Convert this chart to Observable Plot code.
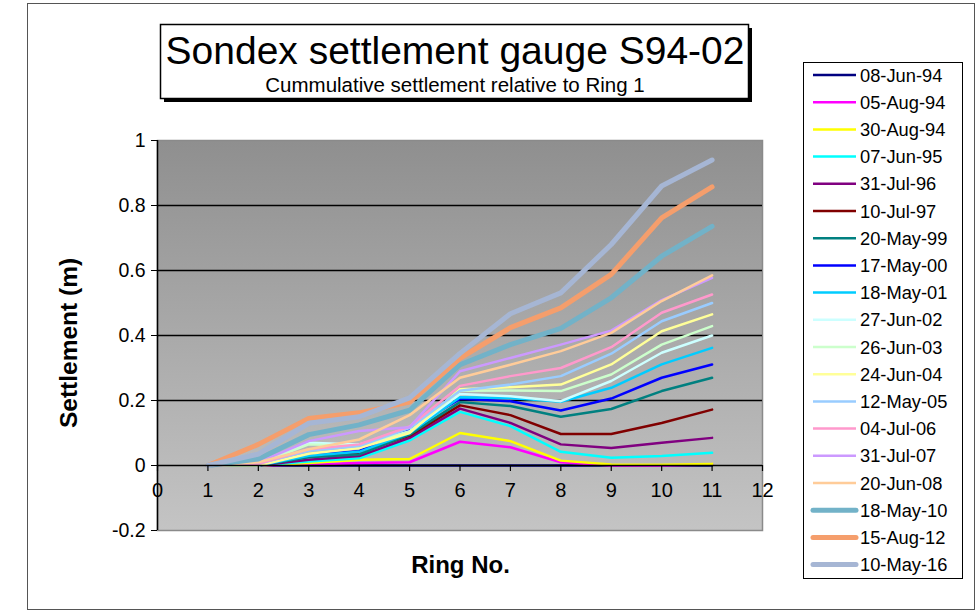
<!DOCTYPE html>
<html><head><meta charset="utf-8">
<script src="https://cdn.jsdelivr.net/npm/d3@7"></script>
<script src="https://cdn.jsdelivr.net/npm/@observablehq/plot@0.6"></script>
<style>
html,body{margin:0;padding:0;background:#fff;}
#chart svg{display:block;}
</style>
</head><body><div id="chart"></div>
<script>
// ---- data ----
const rings = [1, 2, 3, 4, 5, 6, 7, 8, 9, 10, 11];
const xTicks = [0, 1, 2, 3, 4, 5, 6, 7, 8, 9, 10, 11, 12];
const yTicks = [-0.2, 0, 0.2, 0.4, 0.6, 0.8, 1];
const yGrid = [0.2, 0.4, 0.6, 0.8];

const seriesNames = ["08-Jun-94","05-Aug-94","30-Aug-94","07-Jun-95","31-Jul-96","10-Jul-97","20-May-99","17-May-00","18-May-01","27-Jun-02","26-Jun-03","24-Jun-04","12-May-05","04-Jul-06","31-Jul-07","20-Jun-08","18-May-10","15-Aug-12","10-May-16"];
const seriesColors = ["#000080","#ff00ff","#ffff00","#00ffff","#800080","#800000","#008080","#0000ff","#00ccff","#ccffff","#ccffcc","#ffff99","#99ccff","#ff99cc","#cc99ff","#ffcc99","#72b2c8","#f59e6c","#a6b6d4"];
const seriesWidths = [2.5,2.5,2.5,2.5,2.5,2.5,2.5,2.5,2.5,2.5,2.5,2.5,2.5,2.5,2.5,2.5,5,5,5];

const v08Jun94 = [0, 0, 0, 0, 0, 0, 0, 0, 0, 0, 0];
const v05Aug94 = [0, 0, 0.003, 0.008, 0.01, 0.073, 0.056, 0.01, 0, 0, 0.003];
const v30Aug94 = [0, 0, 0.008, 0.018, 0.02, 0.1, 0.075, 0.015, 0.003, 0.002, 0.005];
const v07Jun95 = [0, 0, 0.012, 0.022, 0.077, 0.165, 0.121, 0.042, 0.024, 0.029, 0.039];
const v31Jul96 = [0, 0, 0.018, 0.029, 0.085, 0.175, 0.131, 0.065, 0.054, 0.07, 0.085];
const v10Jul97 = [0, 0, 0.029, 0.039, 0.092, 0.185, 0.155, 0.097, 0.097, 0.131, 0.172];
const v20May99 = [0, 0, 0.025, 0.034, 0.095, 0.195, 0.183, 0.15, 0.174, 0.229, 0.27];
const v17May00 = [0, 0, 0.032, 0.044, 0.113, 0.205, 0.198, 0.169, 0.206, 0.27, 0.311];
const v18May01 = [0, 0, 0.03, 0.042, 0.1, 0.21, 0.208, 0.196, 0.239, 0.311, 0.362];
const v27Jun02 = [0, 0.005, 0.07, 0.065, 0.105, 0.22, 0.213, 0.198, 0.26, 0.347, 0.4];
const v26Jun03 = [0, 0.005, 0.065, 0.06, 0.105, 0.23, 0.231, 0.229, 0.28, 0.372, 0.429];
const v24Jun04 = [0, 0, 0.036, 0.054, 0.1, 0.235, 0.241, 0.249, 0.311, 0.413, 0.465];
const v12May05 = [0, 0.005, 0.045, 0.06, 0.115, 0.23, 0.249, 0.275, 0.344, 0.444, 0.5];
const v04Jul06 = [0, 0.005, 0.05, 0.065, 0.12, 0.245, 0.275, 0.3, 0.364, 0.47, 0.526];
const v31Jul07 = [0, 0.01, 0.075, 0.106, 0.118, 0.29, 0.331, 0.372, 0.415, 0.509, 0.577];
const v20Jun08 = [0, 0.01, 0.05, 0.08, 0.155, 0.27, 0.31, 0.352, 0.408, 0.506, 0.585];
const v18May10 = [0, 0.02, 0.095, 0.125, 0.17, 0.31, 0.372, 0.422, 0.516, 0.644, 0.736];
const v15Aug12 = [0, 0.065, 0.145, 0.162, 0.195, 0.33, 0.424, 0.485, 0.588, 0.762, 0.857];
const v10May16 = [0, 0.035, 0.13, 0.15, 0.208, 0.345, 0.467, 0.531, 0.68, 0.86, 0.94];

const seriesValues = [v08Jun94, v05Aug94, v30Aug94, v07Jun95, v31Jul96, v10Jul97, v20May99, v17May00, v18May01, v27Jun02, v26Jun03, v24Jun04, v12May05, v04Jul06, v31Jul07, v20Jun08, v18May10, v15Aug12, v10May16];

const titleText = "Sondex settlement gauge S94-02";
const subtitleText = "Cummulative settlement relative to Ring 1";
const xTitle = "Ring No.";
const yTitle = "Settlement (m)";

// ---- build ----
const FONT = "'Liberation Sans', Arial, Helvetica, sans-serif";
const W = 980, H = 613;
const plotLeft = 157, plotRight = 762, plotTop = 140, plotBottom = 530;

const tables = seriesValues.map((vals, s) => rings.map((r, i) => ({ring: r, value: vals[i], series: seriesNames[s]})));

const bgDefs = () => {
  const defs = d3.create("svg:defs");
  const g = defs.append("linearGradient").attr("id", "plotbg")
    .attr("x1", 0).attr("y1", 0).attr("x2", 0).attr("y2", 1);
  g.append("stop").attr("offset", "0%").attr("stop-color", "#8f8f8f");
  g.append("stop").attr("offset", "100%").attr("stop-color", "#c4c4c4");
  return defs.node();
};

const fmt = d => String(+d.toFixed(1));

const chart = Plot.plot({
  width: W, height: H,
  marginLeft: plotLeft, marginRight: W - plotRight, marginTop: plotTop, marginBottom: H - plotBottom,
  style: {fontFamily: FONT, background: "white", color: "black", overflow: "visible"},
  x: {domain: [0, 12], axis: null},
  y: {domain: [-0.2, 1]},
  marks: [
    bgDefs,
    Plot.frame({fill: "url(#plotbg)", stroke: "#8a8a8a", strokeWidth: 1.5}),
    Plot.ruleY(yGrid, {stroke: "#000", strokeWidth: 1.3}),
    ...tables.map((t, s) => Plot.line(t, {x: "ring", y: "value", stroke: seriesColors[s], strokeWidth: seriesWidths[s], strokeLinejoin: "round", strokeLinecap: "round"})),
    Plot.ruleY([0], {stroke: "#000", strokeWidth: 1.5}),
    Plot.ruleX(xTicks, {x: d => d, y1: d => 0, y2: d => 0, insetBottom: -6, stroke: "#000", strokeWidth: 1.2}),
    Plot.text(xTicks, {x: d => d, y: d => 0, text: d => String(d), dy: 25, fontSize: 20, fill: "#000"}),
    Plot.ruleX([0], {stroke: "#000", strokeWidth: 1.5}),
    Plot.axisY({anchor: "left", ticks: yTicks, tickFormat: fmt, tickSize: 6, tickPadding: 6, fontSize: 19.5, label: null, stroke: "#000"})
  ]
});

const svg = d3.select(chart);
svg.attr("font-family", FONT);

// outer border
svg.insert("rect", ":first-child")
  .attr("x", 27.5).attr("y", 3.5).attr("width", 947).attr("height", 606)
  .attr("fill", "none").attr("stroke", "#555").attr("stroke-width", 1);

// title box
const tb = svg.append("g");
tb.append("rect").attr("x", 164).attr("y", 28).attr("width", 588).attr("height", 74).attr("fill", "#000");
tb.append("rect").attr("x", 160.5).attr("y", 24.5).attr("width", 588).attr("height", 74)
  .attr("fill", "#fff").attr("stroke", "#000").attr("stroke-width", 1.5);
tb.append("text").attr("x", 455).attr("y", 64).attr("text-anchor", "middle")
  .attr("font-size", 39).attr("fill", "#000").text(titleText);
tb.append("text").attr("x", 455).attr("y", 92).attr("text-anchor", "middle")
  .attr("font-size", 20.5).attr("fill", "#000").text(subtitleText);

// axis titles
svg.append("text").attr("transform", `translate(${(plotLeft + plotRight) / 2 + 1},573)`)
  .attr("text-anchor", "middle").attr("font-size", 24).attr("font-weight", "bold").text(xTitle);
svg.append("text").attr("transform", `translate(77,${(plotTop + plotBottom) / 2 + 8}) rotate(-90)`)
  .attr("text-anchor", "middle").attr("font-size", 24.5).attr("font-weight", "bold").text(yTitle);

// legend
const lg = svg.append("g");
lg.append("rect").attr("x", 803.5).attr("y", 62.5).attr("width", 159).attr("height", 516)
  .attr("fill", "#fff").attr("stroke", "#000").attr("stroke-width", 1);
seriesNames.forEach((name, i) => {
  const y = 75 + i * 27.2;
  lg.append("line").attr("x1", 813).attr("x2", 856).attr("y1", y).attr("y2", y)
    .attr("stroke", seriesColors[i]).attr("stroke-width", seriesWidths[i]).attr("stroke-linecap", seriesWidths[i] > 3 ? "round" : "butt");
  lg.append("text").attr("x", 860).attr("y", y).attr("dy", "0.36em").attr("text-anchor", "start")
    .attr("font-size", 18.3).attr("fill", "#000").text(name);
});

document.getElementById("chart").appendChild(chart);
</script>
</body></html>
